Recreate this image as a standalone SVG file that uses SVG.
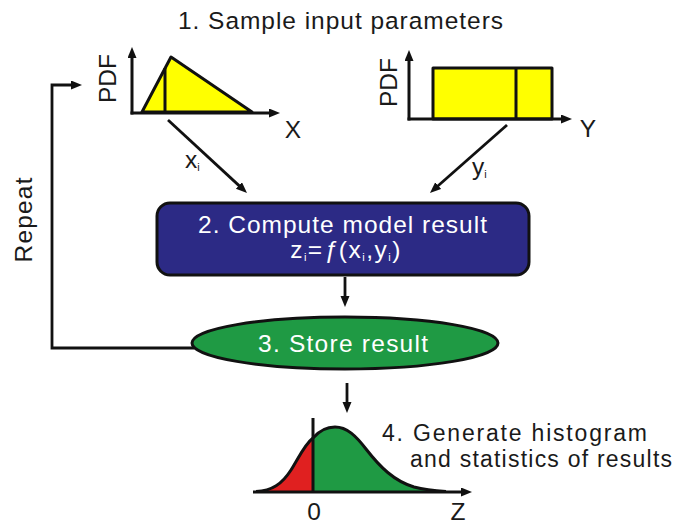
<svg xmlns="http://www.w3.org/2000/svg" width="686" height="525" viewBox="0 0 686 525">
<style>
text{font-family:"Liberation Sans",Arial,sans-serif;fill:#1a1a1a;font-size:24.5px}
.w{fill:#ffffff}
.ax{stroke:#111;stroke-width:3;fill:none;marker-end:url(#ah)}
.cn{stroke:#111;stroke-width:2.8;fill:none;marker-end:url(#ah)}
.ln{stroke:#111;stroke-width:3;fill:none}
.yel{fill:#ffff00;stroke:#111;stroke-width:3;stroke-linejoin:round}
.sub{font-size:11px}
.s4{font-size:23px}
</style>
<defs>
<marker id="ah" markerUnits="userSpaceOnUse" markerWidth="12" markerHeight="10" refX="2" refY="4.5" orient="auto">
<path d="M0,0 L11,4.5 L0,9 z" fill="#111"/>
</marker>
<clipPath id="lc"><rect x="240" y="400" width="73" height="92"/></clipPath>
<clipPath id="rc"><rect x="313" y="400" width="160" height="92"/></clipPath>
</defs>
<rect width="686" height="525" fill="#ffffff"/>

<text id="title" x="178" y="29" textLength="325" lengthAdjust="spacing">1. Sample input parameters</text>

<g id="pdfX">
<polygon class="yel" points="142,112 171,57 252,112"/>
<line class="ln" x1="165" y1="113" x2="165" y2="68"/>
<line class="ax" x1="132" y1="114.5" x2="132" y2="56"/>
<line class="ax" x1="130.5" y1="113" x2="271" y2="113"/>
<text transform="translate(116,78.5) rotate(-90)" text-anchor="middle">PDF</text>
<text x="293" y="138" text-anchor="middle">X</text>
</g>

<g id="pdfY">
<rect class="yel" x="433" y="68" width="119" height="51"/>
<line class="ln" x1="516" y1="68" x2="516" y2="119"/>
<line class="ax" x1="409" y1="120.5" x2="409" y2="59"/>
<line class="ax" x1="407.5" y1="119" x2="563" y2="119"/>
<text transform="translate(397,82.5) rotate(-90)" text-anchor="middle">PDF</text>
<text x="588" y="137" text-anchor="middle">Y</text>
</g>

<g id="compute">
<rect x="157" y="203" width="372" height="72" rx="13" ry="13" fill="#2c2a85" stroke="#111" stroke-width="3"/>
<text class="w" x="198" y="233" textLength="289" lengthAdjust="spacing">2. Compute model result</text>
<text class="w" x="346" y="258" text-anchor="middle" letter-spacing="1.5">z<tspan class="sub" dy="3">i</tspan><tspan dy="-3">=</tspan><tspan font-style="italic">ƒ</tspan>(x<tspan class="sub" dy="3">i</tspan><tspan dy="-3">,y</tspan><tspan class="sub" dy="3">i</tspan><tspan dy="-3">)</tspan></text>
</g>

<g id="store">
<ellipse cx="345" cy="343" rx="153" ry="26" fill="#1f9a44" stroke="#111" stroke-width="3"/>
<text class="w" x="258" y="352" font-size="25.5" textLength="170" lengthAdjust="spacing">3. Store result</text>
</g>

<g id="histogram">
<path d="M256,491.5 C272,491 282,484 291,470 C299,457 305,444 313,438 C320,430 327,427 335,427 C347,427 356,436 366,449 C380,467 394,481 414,487 C425,490 437,491 446,491.5 Z" fill="#e02020" clip-path="url(#lc)"/>
<path d="M256,491.5 C272,491 282,484 291,470 C299,457 305,444 313,438 C320,430 327,427 335,427 C347,427 356,436 366,449 C380,467 394,481 414,487 C425,490 437,491 446,491.5 Z" fill="#1f9a44" clip-path="url(#rc)"/>
<path class="ln" d="M256,491.5 C272,491 282,484 291,470 C299,457 305,444 313,438 C320,430 327,427 335,427 C347,427 356,436 366,449 C380,467 394,481 414,487 C425,490 437,491 446,491.5"/>
<line class="ln" x1="313" y1="418" x2="313" y2="492"/>
<line class="ax" x1="253" y1="492" x2="463" y2="492"/>
<text x="314" y="520" text-anchor="middle">0</text>
<text x="458" y="520" text-anchor="middle">Z</text>
</g>

<g id="step4">
<text class="s4" x="382" y="441" textLength="265" lengthAdjust="spacing">4. Generate histogram</text>
<text class="s4" x="410" y="467" textLength="262" lengthAdjust="spacing">and statistics of results</text>
</g>

<g id="connectors">
<line class="cn" x1="168" y1="120" x2="240.4" y2="186.9"/>
<line class="cn" x1="507" y1="125" x2="436.7" y2="187"/>
<line class="cn" x1="345" y1="277" x2="345" y2="298"/>
<polyline class="cn" points="194,348 52,348 52,85 73,85"/>
<line class="cn" x1="347" y1="383" x2="347" y2="404"/>
<text x="185" y="168">x<tspan class="sub" dy="3">i</tspan></text>
<text x="472" y="175">y<tspan class="sub" dy="3">i</tspan></text>
<text transform="translate(32,220) rotate(-90)" text-anchor="middle" textLength="85" lengthAdjust="spacing">Repeat</text>
</g>
</svg>
